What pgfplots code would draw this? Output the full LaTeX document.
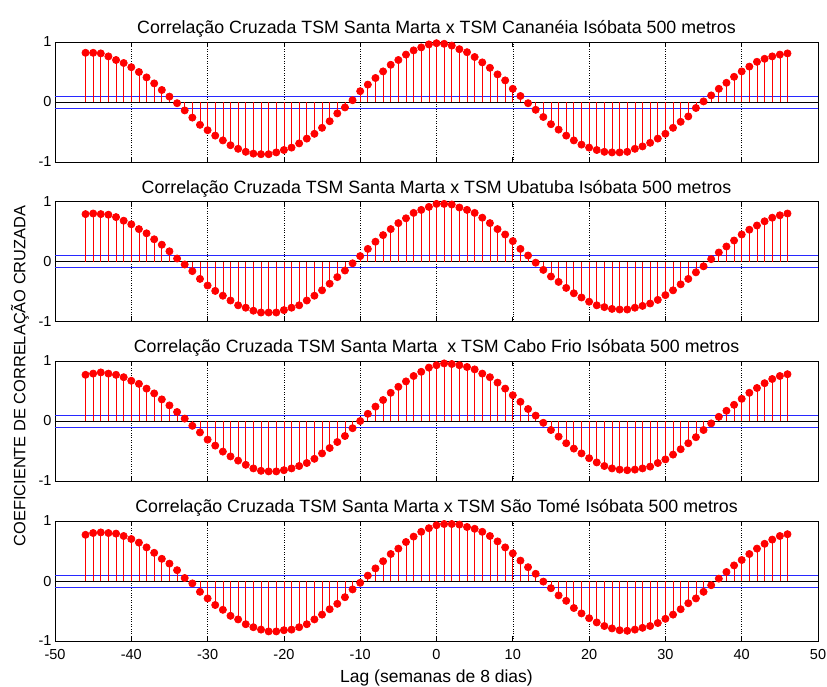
\documentclass[border=0pt]{standalone}
\usepackage{fontspec}
\setmainfont{Liberation Sans}
\usepackage{pgfplots}
\usepackage{pgfplotstable}
\pgfplotsset{compat=1.18}
\definecolor{refblue}{RGB}{40,40,255}
\definecolor{refred}{RGB}{255,0,0}
\pgfplotstableread{
lag p1 p2 p3 p4
-46 0.82 0.79 0.77 0.77
-45 0.82 0.80 0.79 0.80
-44 0.81 0.79 0.81 0.81
-43 0.76 0.78 0.79 0.80
-42 0.70 0.74 0.77 0.79
-41 0.65 0.68 0.73 0.75
-40 0.58 0.62 0.67 0.70
-39 0.50 0.54 0.62 0.64
-38 0.41 0.47 0.54 0.56
-37 0.31 0.37 0.46 0.47
-36 0.20 0.28 0.36 0.37
-35 0.09 0.17 0.26 0.29
-34 -0.02 0.05 0.15 0.18
-33 -0.14 -0.05 0.04 0.05
-32 -0.26 -0.16 -0.08 -0.04
-31 -0.38 -0.29 -0.19 -0.18
-30 -0.47 -0.40 -0.31 -0.29
-29 -0.56 -0.49 -0.41 -0.40
-28 -0.64 -0.57 -0.51 -0.48
-27 -0.72 -0.65 -0.59 -0.58
-26 -0.78 -0.73 -0.66 -0.64
-25 -0.83 -0.77 -0.73 -0.72
-24 -0.86 -0.82 -0.79 -0.77
-23 -0.87 -0.85 -0.83 -0.81
-22 -0.87 -0.85 -0.84 -0.84
-21 -0.84 -0.85 -0.84 -0.84
-20 -0.80 -0.81 -0.82 -0.82
-19 -0.76 -0.77 -0.79 -0.81
-18 -0.69 -0.73 -0.75 -0.77
-17 -0.61 -0.65 -0.70 -0.72
-16 -0.53 -0.57 -0.63 -0.64
-15 -0.43 -0.48 -0.54 -0.56
-14 -0.32 -0.37 -0.45 -0.47
-13 -0.19 -0.26 -0.35 -0.38
-12 -0.09 -0.15 -0.25 -0.27
-11 0.03 -0.03 -0.12 -0.14
-10 0.18 0.09 0.00 -0.03
-9 0.29 0.21 0.12 0.09
-8 0.40 0.33 0.24 0.21
-7 0.51 0.44 0.35 0.33
-6 0.62 0.54 0.47 0.45
-5 0.70 0.64 0.57 0.54
-4 0.79 0.72 0.66 0.65
-3 0.86 0.81 0.75 0.74
-2 0.91 0.86 0.82 0.82
-1 0.96 0.91 0.89 0.88
0 0.98 0.96 0.93 0.93
1 0.97 0.96 0.96 0.95
2 0.94 0.95 0.95 0.95
3 0.88 0.90 0.93 0.94
4 0.83 0.86 0.90 0.90
5 0.75 0.81 0.86 0.87
6 0.66 0.73 0.79 0.82
7 0.57 0.64 0.73 0.75
8 0.46 0.54 0.64 0.66
9 0.36 0.45 0.54 0.56
10 0.22 0.34 0.43 0.46
11 0.10 0.21 0.32 0.34
12 -0.02 0.10 0.20 0.23
13 -0.13 -0.02 0.09 0.12
14 -0.25 -0.14 -0.03 -0.01
15 -0.37 -0.25 -0.15 -0.12
16 -0.46 -0.34 -0.26 -0.24
17 -0.56 -0.44 -0.37 -0.33
18 -0.64 -0.53 -0.46 -0.45
19 -0.71 -0.60 -0.54 -0.54
20 -0.76 -0.67 -0.62 -0.62
21 -0.80 -0.73 -0.69 -0.69
22 -0.83 -0.76 -0.75 -0.75
23 -0.84 -0.79 -0.79 -0.79
24 -0.84 -0.80 -0.81 -0.82
25 -0.83 -0.80 -0.82 -0.83
26 -0.78 -0.77 -0.81 -0.81
27 -0.74 -0.74 -0.79 -0.78
28 -0.68 -0.70 -0.76 -0.75
29 -0.61 -0.64 -0.70 -0.70
30 -0.53 -0.56 -0.64 -0.63
31 -0.43 -0.48 -0.56 -0.56
32 -0.33 -0.38 -0.47 -0.47
33 -0.24 -0.29 -0.37 -0.37
34 -0.10 -0.18 -0.27 -0.29
35 0.01 -0.08 -0.15 -0.18
36 0.11 0.04 -0.04 -0.07
37 0.22 0.15 0.07 0.04
38 0.32 0.25 0.17 0.15
39 0.42 0.35 0.27 0.26
40 0.51 0.45 0.37 0.35
41 0.59 0.53 0.47 0.45
42 0.67 0.60 0.55 0.54
43 0.72 0.67 0.63 0.62
44 0.76 0.73 0.70 0.69
45 0.79 0.77 0.75 0.75
46 0.81 0.80 0.78 0.78
}\data
\pgfplotsset{
  panel/.style={
    width=763pt, height=120pt, scale only axis,
    anchor=north west,
    xmin=-50, xmax=50, ymin=-1, ymax=1,
    xtick={-50,-40,...,50}, ytick={-1,0,1},
    tick align=inside, major tick length=5pt,
    xmajorgrids, grid style={black, dotted, line width=0.6pt},
    axis line style={black, line width=0.7pt},
    tick style={black, line width=0.7pt},
    tick label style={font=\fontsize{14.5}{15}\selectfont},
    xticklabel style={yshift=-5pt},
    /pgf/number format/assume math mode=true,
    title style={font=\fontsize{17.8}{18}\selectfont, yshift=-5pt},
  },
  stem/.style={color=refred, ycomb, line width=0.7pt, mark=*, mark size=3.6pt, mark options={fill=refred, draw=refred}},
  hline/.style={draw=refblue, line width=1pt, forget plot},
  zline/.style={color=black, line width=0.9pt, forget plot},
}
\begin{document}
\begin{tikzpicture}
\useasboundingbox (-55pt,0pt) rectangle (772pt,-686pt);
\begin{axis}[panel, at={(0pt,-42pt)}, xticklabels={},
  title={Correlação Cruzada TSM Santa Marta x TSM Cananéia Isóbata 500 metros}]
\addplot[hline] coordinates {(-50,0.09) (50,0.09)};
\addplot[hline] coordinates {(-50,-0.1) (50,-0.1)};
\addplot[zline] coordinates {(-50,0) (50,0)};
\addplot[stem] table[x=lag,y=p1]{\data};
\end{axis}
\begin{axis}[panel, at={(0pt,-201.5pt)}, xticklabels={},
  title={Correlação Cruzada TSM Santa Marta x TSM Ubatuba Isóbata 500 metros}]
\addplot[hline] coordinates {(-50,0.1) (50,0.1)};
\addplot[hline] coordinates {(-50,-0.1) (50,-0.1)};
\addplot[zline] coordinates {(-50,0) (50,0)};
\addplot[stem] table[x=lag,y=p2]{\data};
\end{axis}
\begin{axis}[panel, at={(0pt,-361pt)}, xticklabels={},
  title={Correlação Cruzada TSM Santa Marta~ x TSM Cabo Frio Isóbata 500 metros}]
\addplot[hline] coordinates {(-50,0.1) (50,0.1)};
\addplot[hline] coordinates {(-50,-0.1) (50,-0.1)};
\addplot[zline] coordinates {(-50,0) (50,0)};
\addplot[stem] table[x=lag,y=p3]{\data};
\end{axis}
\begin{axis}[panel, at={(0pt,-521pt)},
  title={Correlação Cruzada TSM Santa Marta x TSM São Tomé Isóbata 500 metros},
  xlabel={Lag (semanas de 8 dias)},
  xlabel style={font=\fontsize{17.5}{18}\selectfont, yshift=-3pt}]
\addplot[hline] coordinates {(-50,0.1) (50,0.1)};
\addplot[hline] coordinates {(-50,-0.1) (50,-0.1)};
\addplot[zline] coordinates {(-50,0) (50,0)};
\addplot[stem] table[x=lag,y=p4]{\data};
\end{axis}
\node[rotate=90, font=\fontsize{16.4}{17}\selectfont] at (-35pt,-376pt) {COEFICIENTE DE CORRELAÇÃO CRUZADA};
\end{tikzpicture}
\end{document}
